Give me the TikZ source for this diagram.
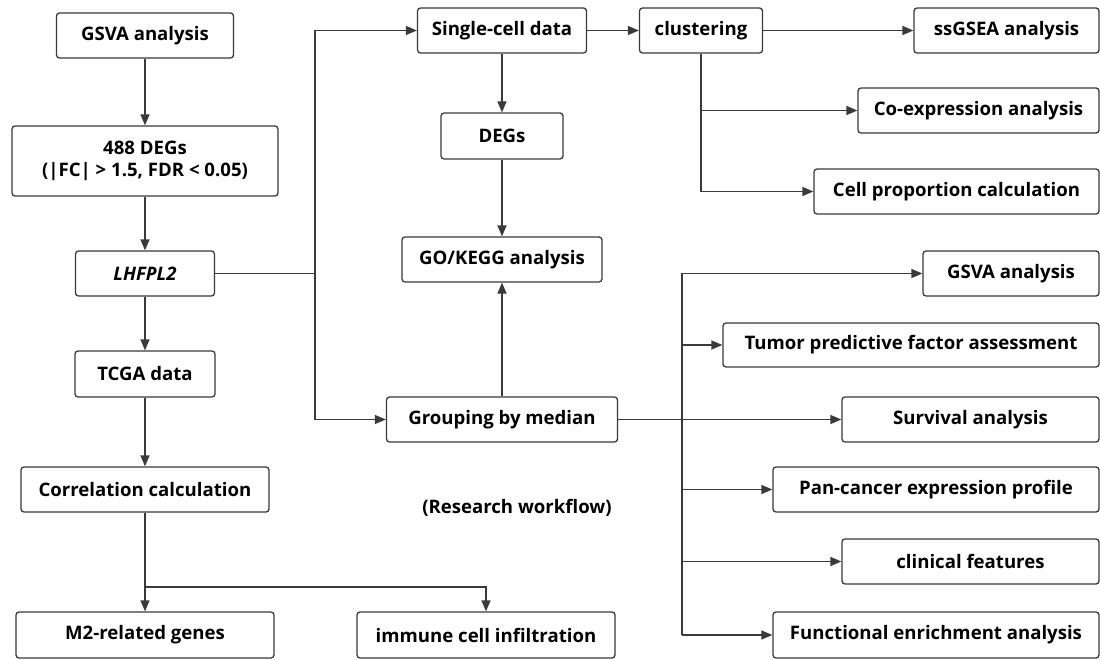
\documentclass[tikz,border=0pt]{standalone}
\usepackage{fontspec}
\setmainfont{Open Sans}
\usetikzlibrary{arrows.meta}
\definecolor{linec}{HTML}{3A3A3A}
\begin{document}
\begin{tikzpicture}[x=1pt,y=-1pt,
  box/.style={draw=linec, line width=1.3pt, rounded corners=3pt, fill=white,
    font=\bfseries\fontsize{18.6}{22}\selectfont, inner sep=1pt, align=center,
    text=black},
  wire/.style={draw=linec, line width=1.4pt},
  conn/.style={wire, -{Triangle[length=11pt,width=9pt]}}]
\useasboundingbox[fill=white] (0,0) rectangle (1100,660);
% left column
\node[box, minimum width=177pt, minimum height=45pt] (gsva1) at (145,35.5) {GSVA analysis};
\node[box, minimum width=266pt, minimum height=70pt] (degs488) at (145,161) {488 DEGs\\(|FC| {>} 1.5, FDR {<} 0.05)};
\node[box, minimum width=139pt, minimum height=45pt] (lhfpl2) at (145,273.5) {\textit{LHFPL2}};
\node[box, minimum width=140pt, minimum height=46pt] (tcga) at (145,374) {TCGA data};
\node[box, minimum width=248pt, minimum height=45pt] (corr) at (145,489.5) {Correlation calculation};
\node[box, minimum width=258pt, minimum height=46pt] (m2) at (145,635) {M2-related genes};
\node[box, minimum width=258pt, minimum height=46pt] (immune) at (486,635) {immune cell infiltration};
% centre column
\node[box, minimum width=169pt, minimum height=45pt] (single) at (502,30.5) {Single-cell data};
\node[box, minimum width=122pt, minimum height=46pt] (degs) at (502,136) {DEGs};
\node[box, minimum width=200pt, minimum height=45pt] (gokegg) at (502,259.5) {GO/KEGG analysis};
\node[box, minimum width=231pt, minimum height=45pt] (group) at (502,419.5) {Grouping by median};
\node[font=\bfseries\fontsize{18.6}{22}\selectfont] (label) at (517,508) {(Research workflow)};
% clustering branch
\node[box, minimum width=123pt, minimum height=45pt] (cluster) at (701,30.5) {clustering};
\node[box, minimum width=185pt, minimum height=45pt] (ssgsea) at (1006.5,30.5) {ssGSEA analysis};
\node[box, minimum width=241pt, minimum height=45pt] (coexp) at (978.5,110.5) {Co-expression analysis};
\node[box, minimum width=285pt, minimum height=45pt] (cellprop) at (956.5,191.5) {Cell proportion calculation};
% right column
\node[box, minimum width=176pt, minimum height=45pt] (gsva2) at (1011,273.5) {GSVA analysis};
\node[box, minimum width=376pt, minimum height=44pt] (tumor) at (911,345) {Tumor predictive factor assessment};
\node[box, minimum width=257pt, minimum height=45pt] (survival) at (970.5,419.5) {Survival analysis};
\node[box, minimum width=326pt, minimum height=45pt] (pancancer) at (936,489.5) {Pan-cancer expression profile};
\node[box, minimum width=257pt, minimum height=45pt] (clinical) at (970.5,561.5) {clinical features};
\node[box, minimum width=326pt, minimum height=46pt] (functional) at (936,635) {Functional enrichment analysis};
% left column connectors
\draw[conn] (gsva1.south) -- (degs488.north);
\draw[conn] (degs488.south) -- (lhfpl2.north);
\draw[conn] (lhfpl2.south) -- (tcga.north);
\draw[conn] (tcga.south) -- (corr.north);
\coordinate (cj) at (145,587);
\draw[wire] (corr.south) -- (cj);
\draw[conn] (cj) -- (m2.north);
\draw[conn] (cj) -| (immune.north);
% trunk from LHFPL2
\coordinate (t1) at (315,273.5);
\draw[wire] (lhfpl2.east) -- (t1);
\draw[conn] (t1) |- (single.west);
\draw[conn] (t1) |- (group.west);
% centre connectors
\draw[conn] (single.south) -- (degs.north);
\draw[conn] (degs.south) -- (gokegg.north);
\draw[conn] (group.north) -- (gokegg.south);
\draw[conn] (single.east) -- (cluster.west);
\draw[conn] (cluster.east) -- (ssgsea.west);
\draw[conn] (cluster.south) |- (coexp.west);
\draw[conn] (cluster.south) |- (cellprop.west);
% right trunk
\draw[conn] (group.east) -- (survival.west);
\coordinate (rtop) at (682,273.5);
\coordinate (rbot) at (682,635);
\draw[wire] (rtop) -- (rbot);
\draw[conn] (rtop) -- (gsva2.west);
\draw[conn] (rtop |- tumor.west) -- (tumor.west);
\draw[conn] (rtop |- pancancer.west) -- (pancancer.west);
\draw[conn] (rtop |- clinical.west) -- (clinical.west);
\draw[conn] (rbot) -- (functional.west);
\end{tikzpicture}
\end{document}
